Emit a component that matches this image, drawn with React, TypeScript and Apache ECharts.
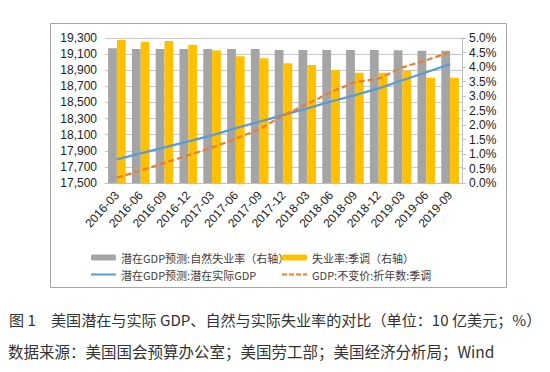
import React, { useEffect, useRef } from "react";
import * as echarts from "echarts";

const categories = [
  "2016-03", "2016-06", "2016-09", "2016-12",
  "2017-03", "2017-06", "2017-09", "2017-12",
  "2018-03", "2018-06", "2018-09", "2018-12",
  "2019-03", "2019-06", "2019-09",
];
const naturalRate = [4.65, 4.62, 4.62, 4.62, 4.62, 4.62, 4.62, 4.59, 4.59, 4.59, 4.59, 4.59, 4.58, 4.56, 4.56];
const unemploymentRate = [4.93, 4.87, 4.9, 4.77, 4.57, 4.37, 4.3, 4.13, 4.07, 3.9, 3.8, 3.8, 3.87, 3.63, 3.63];
const potentialGdp = [17794, 17868, 17942, 18017, 18092, 18181, 18262, 18346, 18426, 18512, 18590, 18675, 18775, 18875, 18975];
const realGdp = [17566, 17655, 17750, 17845, 17940, 18050, 18170, 18340, 18480, 18630, 18750, 18795, 18935, 19025, 19125];

const seriesNames = [
  "潜在GDP预测:自然失业率（右轴）",
  "失业率:季调（右轴）",
  "潜在GDP预测:潜在实际GDP",
  "GDP:不变价:折年数:季调",
];
const captionLine1 = "图 1　美国潜在与实际 GDP、自然与实际失业率的对比（单位：10 亿美元；%）";
const captionLine2 = "数据来源：美国国会预算办公室；美国劳工部；美国经济分析局；Wind";

const axisFont = "'Liberation Sans', Arial, sans-serif";
const cjkFont = "'Noto Sans CJK SC', sans-serif";

const solidLineIcon = "path://M0,0h25v2h-25z";
const dashedLineIcon = "path://M0,0h5v2h-5z M7,0h5v2h-5z M14,0h5v2h-5z M21,0h4v2h-4z";

export default function App() {
  const ref = useRef<HTMLDivElement>(null);
  useEffect(() => {
    if (!ref.current) return;
    const chart = echarts.init(ref.current, null, { renderer: "svg" });
    const legendBase = {
      orient: "horizontal",
      itemWidth: 25,
      itemHeight: 6,
      textStyle: { fontFamily: cjkFont, fontSize: 11, color: "#404040" },
      selectedMode: false,
    };
    chart.setOption({
      animation: false,
      backgroundColor: "#fff",
      grid: { left: 105, right: 88, top: 38, bottom: 189, containLabel: false },
      legend: [
        { ...legendBase, data: [seriesNames[0]], left: 86, top: 247 },
        { ...legendBase, data: [seriesNames[1]], left: 277, top: 247 },
        {
          ...legendBase,
          itemHeight: 2,
          data: [{ name: seriesNames[2], icon: solidLineIcon }],
          left: 86,
          top: 264,
        },
        {
          ...legendBase,
          itemHeight: 2,
          data: [{ name: seriesNames[3], icon: dashedLineIcon }],
          left: 277,
          top: 264,
        },
      ],
      xAxis: {
        type: "category",
        data: categories,
        axisLine: { show: true, lineStyle: { color: "#bfbfbf", width: 1 } },
        axisTick: { show: false },
        axisLabel: {
          rotate: 48,
          margin: 10,
          fontFamily: axisFont,
          fontSize: 12,
          color: "#222",
          interval: 0,
        },
      },
      yAxis: [
        {
          type: "value",
          min: 17500,
          max: 19300,
          interval: 200,
          axisLine: { show: false },
          axisTick: { show: false },
          splitLine: { show: true, lineStyle: { color: "#c8c8c8", width: 1 } },
          axisLabel: {
            margin: 8,
            fontFamily: axisFont,
            fontSize: 12,
            color: "#222",
            formatter: (v: number) => v.toLocaleString("en-US"),
          },
        },
        {
          type: "value",
          min: 0,
          max: 5,
          interval: 0.5,
          position: "right",
          axisLine: { show: true, lineStyle: { color: "#bfbfbf", width: 1 } },
          axisTick: { show: true, length: 4, lineStyle: { color: "#bfbfbf" } },
          splitLine: { show: false },
          axisLabel: {
            margin: 7,
            fontFamily: axisFont,
            fontSize: 12,
            color: "#222",
            formatter: (v: number) => v.toFixed(1) + "%",
          },
        },
      ],
      series: [
        {
          name: seriesNames[0],
          type: "bar",
          yAxisIndex: 1,
          data: naturalRate,
          itemStyle: { color: "#a5a5a5" },
          barGap: "0%",
          barCategoryGap: "26%",
        },
        {
          name: seriesNames[1],
          type: "bar",
          yAxisIndex: 1,
          data: unemploymentRate,
          itemStyle: { color: "#ffc000" },
          barGap: "0%",
          barCategoryGap: "26%",
        },
        {
          name: seriesNames[2],
          type: "line",
          yAxisIndex: 0,
          data: potentialGdp,
          symbol: "none",
          lineStyle: { color: "#5b9bd5", width: 2.25 },
          itemStyle: { color: "#5b9bd5" },
        },
        {
          name: seriesNames[3],
          type: "line",
          yAxisIndex: 0,
          data: realGdp,
          symbol: "none",
          lineStyle: { color: "#ed7d31", width: 2.25, type: [6, 3] },
          itemStyle: { color: "#ed7d31" },
        },
      ],
      graphic: [
        {
          type: "rect",
          shape: { x: 50.5, y: 23.5, width: 456, height: 264 },
          style: { fill: "none", stroke: "#a6a6a6", lineWidth: 1 },
          silent: true,
        },
        {
          type: "text",
          x: 9,
          y: 311,
          style: { text: captionLine1, font: `15.1px ${cjkFont}`, fill: "#333" },
        },
        {
          type: "text",
          x: 8,
          y: 343,
          style: { text: captionLine2, font: `15.5px ${cjkFont}`, fill: "#333" },
        },
      ],
    });
    return () => chart.dispose();
  }, []);
  return (
    <div
      ref={ref}
      style={{ position: "absolute", left: 0, top: 0, width: 550, height: 372, background: "#fff" }}
    />
  );
}
